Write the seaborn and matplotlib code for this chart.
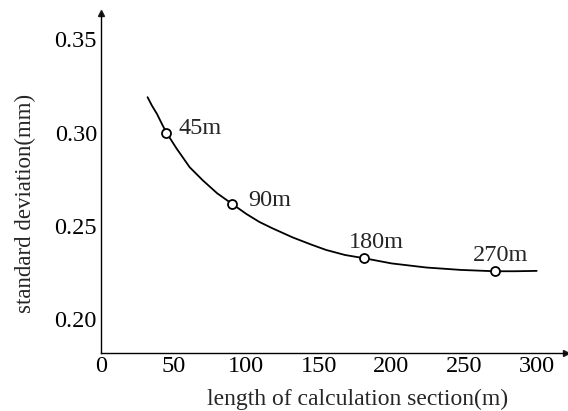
import matplotlib
matplotlib.use("Agg")
import matplotlib.pyplot as plt
import seaborn as sns
import pandas as pd

# curve
curve_x = [32, 35, 38.5, 42, 45, 52, 61, 70, 80, 90, 100, 109, 118, 132, 145, 155, 168, 181, 200, 224, 248, 271, 285, 300]
curve_y = [0.319, 0.3145, 0.3100, 0.3045, 0.300, 0.2915, 0.2815, 0.2745, 0.2675, 0.2620, 0.2565, 0.2522, 0.2488, 0.2439, 0.2400, 0.2372, 0.2345, 0.2328, 0.2300, 0.2278, 0.2265, 0.2258, 0.2258, 0.2260]

# marked section lengths
mark_x = [45, 90, 181, 271]
mark_y = [0.300, 0.262, 0.2328, 0.2258]
mark_labels = ["45m", "90m", "180m", "270m"]

x_ticks = [0, 50, 100, 150, 200, 250, 300]
y_ticks = [0.20, 0.25, 0.30, 0.35]

sns.set_theme(style="white")
plt.rcParams['font.family'] = ['Liberation Serif', 'DejaVu Serif']

curve = pd.DataFrame({"x": curve_x, "y": curve_y})
marks = pd.DataFrame({"x": mark_x, "y": mark_y})

fig, ax = plt.subplots(figsize=(5.68, 4.11), dpi=100)
fig.subplots_adjust(left=0.178, right=0.996, bottom=0.141, top=0.968)

sns.lineplot(data=curve, x="x", y="y", ax=ax, color="black", linewidth=1.3,
             sort=False, estimator=None)
sns.scatterplot(data=marks, x="x", y="y", ax=ax, s=42, facecolor="white",
                edgecolor="black", linewidth=1.3, zorder=3)

# labels next to points (pixel offsets, ha)
offsets = [(12, -1, "left"), (16, -2, "left"), (12, 10, "center"), (6, 10, "center")]
for xv, yv, lab, (dx, dy, ha) in zip(mark_x, mark_y, mark_labels, offsets):
    ax.annotate(lab, (xv, yv), xytext=(dx, dy), textcoords="offset pixels",
                ha=ha, va="baseline", fontsize=17.5)

ax.set_xlim(0, 320)
ax.set_ylim(0.182, 0.364)
ax.set_xticks(x_ticks)
ax.set_yticks(y_ticks)
ax.set_yticklabels([f"{v:.2f}" for v in y_ticks])
ax.tick_params(direction="in", length=5, width=1, labelsize=17.5, colors="black")
ax.tick_params(axis="x", pad=2)
ax.tick_params(axis="y", pad=3)

ax.spines["top"].set_visible(False)
ax.spines["right"].set_visible(False)
for s in ["left", "bottom"]:
    ax.spines[s].set_color("black")
    ax.spines[s].set_linewidth(1)

# arrow heads on the axes
ax.plot(1, 0, ">k", transform=ax.transAxes, clip_on=False, markersize=4)
ax.plot(0, 1, "^k", transform=ax.transAxes, clip_on=False, markersize=4)

ax.set_xlabel("length of calculation section(m)", fontsize=17)
ax.set_ylabel("standard deviation(mm)", fontsize=16.5)
ax.xaxis.set_label_coords(0.553, -0.105)
ax.yaxis.set_label_coords(-0.139, 0.44)

plt.savefig("out.png", dpi=100)
